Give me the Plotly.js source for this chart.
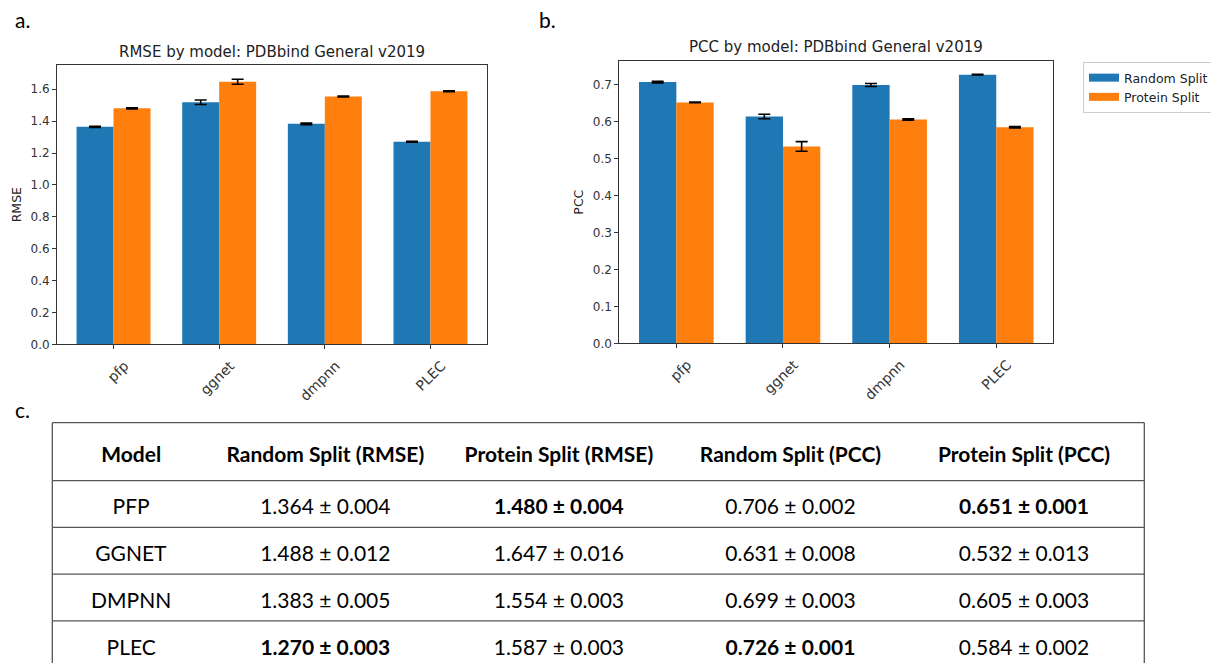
<!DOCTYPE html>
<html><head><meta charset="utf-8">
<script src="https://cdn.plot.ly/plotly-3.0.1.min.js"></script>
<style>html,body{margin:0;padding:0;background:#fff;overflow:hidden}#chart{width:1211px;height:663px}</style>
</head><body><div id="chart"></div>
<script>
// ---- bar chart data ----
const models = ['pfp', 'ggnet', 'dmpnn', 'PLEC'];
const seriesNames = ['Random Split', 'Protein Split'];
const rmseRandom = [1.364, 1.518, 1.383, 1.270];
const rmseRandomErr = [0.004, 0.014, 0.005, 0.003];
const rmseProtein = [1.480, 1.647, 1.554, 1.587];
const rmseProteinErr = [0.004, 0.016, 0.003, 0.003];
const pccRandom = [0.706, 0.613, 0.698, 0.726];
const pccRandomErr = [0.002, 0.006, 0.004, 0.001];
const pccProtein = [0.651, 0.532, 0.605, 0.584];
const pccProteinErr = [0.001, 0.013, 0.002, 0.002];

// ---- table data ----
const tableHeader = ['Model', 'Random Split (RMSE)', 'Protein Split (RMSE)', 'Random Split (PCC)', 'Protein Split (PCC)'];
const tableModels = ['PFP', 'GGNET', 'DMPNN', 'PLEC'];
const tRandRmse = [1.364, 1.488, 1.383, 1.270];
const tRandRmseSd = [0.004, 0.012, 0.005, 0.003];
const tProtRmse = [1.480, 1.647, 1.554, 1.587];
const tProtRmseSd = [0.004, 0.016, 0.003, 0.003];
const tRandPcc = [0.706, 0.631, 0.699, 0.726];
const tRandPccSd = [0.002, 0.008, 0.003, 0.001];
const tProtPcc = [0.651, 0.532, 0.605, 0.584];
const tProtPccSd = [0.001, 0.013, 0.003, 0.002];

const W = 1211, H = 663;
const px = v => v / W, py = v => 1 - v / H;
const BLUE = '#1f77b4', ORANGE = '#ff7f0e';
const chartFont = 'DejaVu Sans';
const tabFont = 'Lato';

const plain = s => '<span>' + s + '</span>';
function fmtCol(means, sds, lowerBetter) {
  const best = lowerBetter ? Math.min(...means) : Math.max(...means);
  return means.map((m, i) => {
    const s = m.toFixed(3) + ' \u00b1 ' + sds[i].toFixed(3);
    return m === best ? '<b>' + s + '</b>' : plain(s);
  });
}

function barTrace(y, err, color, xa, ya, name) {
  return {
    type: 'bar', x: models, y: y, name: name, xaxis: xa, yaxis: ya,
    marker: {color: color, line: {width: 0}}, showlegend: false,
    error_y: {type: 'data', array: err, visible: true, color: '#000', thickness: 1.6, width: 6}
  };
}

const traces = [
  barTrace(rmseRandom, rmseRandomErr, BLUE, 'x', 'y', seriesNames[0]),
  barTrace(rmseProtein, rmseProteinErr, ORANGE, 'x', 'y', seriesNames[1]),
  barTrace(pccRandom, pccRandomErr, BLUE, 'x2', 'y2', seriesNames[0]),
  barTrace(pccProtein, pccProteinErr, ORANGE, 'x2', 'y2', seriesNames[1]),
  {type: 'scatter', mode: 'lines', x: [null], y: [null], xaxis: 'x2', yaxis: 'y2', name: seriesNames[0], line: {color: BLUE, width: 8}},
  {type: 'scatter', mode: 'lines', x: [null], y: [null], xaxis: 'x2', yaxis: 'y2', name: seriesNames[1], line: {color: ORANGE, width: 8}}
];

// table geometry (px)
const tabLeft = 52.3, tabRight = 1144.3, tabTop = 422.7;
const headRow = 58, bodyRow = 46.7;
const headTextH = 52.7;
const tabShift = 10;

traces.push({
  type: 'table',
  domain: {x: [px(tabLeft), px(tabRight)], y: [0, py(tabTop + tabShift)]},
  columnwidth: [158, 231, 237, 227, 241],
  header: {
    values: tableHeader.map(h => ['<b>' + h + '</b>']),
    align: 'center', height: headTextH,
    font: {family: tabFont, size: 21, color: '#000'},
    line: {width: 0, color: 'rgba(0,0,0,0)'}, fill: {color: 'rgba(0,0,0,0)'}
  },
  cells: {
    values: [tableModels.map(plain), fmtCol(tRandRmse, tRandRmseSd, true), fmtCol(tProtRmse, tProtRmseSd, true),
             fmtCol(tRandPcc, tRandPccSd, false), fmtCol(tProtPcc, tProtPccSd, false)],
    align: 'center', height: bodyRow,
    font: {family: tabFont, size: 21, color: '#000'},
    line: {width: 0, color: 'rgba(0,0,0,0)'}, fill: {color: 'rgba(0,0,0,0)'}
  }
});

// table rules
const lineStyle = {color: '#555', width: 1.3};
const shapes = [];
const rulesPx = [tabTop];
for (let i = 0; i < tableModels.length; i++) rulesPx.push(tabTop + headRow + i * bodyRow);
rulesPx.forEach(yv => shapes.push({type: 'line', xref: 'paper', yref: 'paper', x0: px(tabLeft), x1: px(tabRight), y0: py(yv), y1: py(yv), line: lineStyle}));
[tabLeft, tabRight].forEach(xv => shapes.push({type: 'line', xref: 'paper', yref: 'paper', x0: px(xv), x1: px(xv), y0: py(tabTop), y1: 0, line: lineStyle}));

const axisCommon = {
  showline: true, linecolor: '#333', linewidth: 1, mirror: true,
  ticks: 'outside', ticklen: 4, tickwidth: 1, tickcolor: '#333',
  showgrid: false, zeroline: false,
  tickfont: {family: chartFont, size: 12, color: '#333'}
};
const xCommon = Object.assign({}, axisCommon, {type: 'category', range: [-0.535, 3.535], tickangle: -45, ticklabelshift: 11, ticklabelstandoff: 3,
  tickfont: {family: chartFont, size: 14, color: '#333'}, fixedrange: true});

const layout = {
  width: W, height: H,
  margin: {l: 0, r: 0, t: 0, b: 0, autoexpand: false},
  paper_bgcolor: '#fff', plot_bgcolor: '#fff',
  barmode: 'group', bargap: 0.3, bargroupgap: 0,
  font: {family: chartFont, color: '#222'},
  xaxis: Object.assign({}, xCommon, {domain: [px(57), px(487)], anchor: 'y'}),
  yaxis: Object.assign({}, axisCommon, {domain: [py(344.3), py(65)], anchor: 'x', range: [0, 1.752], dtick: 0.2, tickformat: '.1f',
    title: {text: 'RMSE', font: {family: chartFont, size: 12.5, color: '#222'}, standoff: 6}}),
  xaxis2: Object.assign({}, xCommon, {domain: [px(619.3), px(1053.3)], anchor: 'y2'}),
  yaxis2: Object.assign({}, axisCommon, {domain: [py(343.3), py(61)], anchor: 'x2', range: [0, 0.763], dtick: 0.1, tickformat: '.1f',
    title: {text: 'PCC', font: {family: chartFont, size: 12.5, color: '#222'}, standoff: 6}}),
  showlegend: true,
  legend: {x: px(1083), y: py(62), xanchor: 'left', yanchor: 'top', bgcolor: '#fff', bordercolor: '#ccc', borderwidth: 1,
    font: {family: chartFont, size: 12.5, color: '#222'}, itemwidth: 30, tracegroupgap: 0},
  shapes: shapes,
  annotations: [
    {text: 'RMSE by model: PDBbind General v2019', xref: 'paper', yref: 'paper', x: px(272), y: py(52), xanchor: 'center', yanchor: 'middle', showarrow: false, font: {family: chartFont, size: 15, color: '#222'}},
    {text: 'PCC by model: PDBbind General v2019', xref: 'paper', yref: 'paper', x: px(836.3), y: py(47), xanchor: 'center', yanchor: 'middle', showarrow: false, font: {family: chartFont, size: 15, color: '#222'}},
    {text: 'a.', xref: 'paper', yref: 'paper', x: px(13), y: py(19), xanchor: 'left', yanchor: 'middle', showarrow: false, font: {family: tabFont, size: 21, color: '#000'}},
    {text: 'b.', xref: 'paper', yref: 'paper', x: px(537), y: py(19), xanchor: 'left', yanchor: 'middle', showarrow: false, font: {family: tabFont, size: 21, color: '#000'}},
    {text: 'c.', xref: 'paper', yref: 'paper', x: px(13), y: py(409), xanchor: 'left', yanchor: 'middle', showarrow: false, font: {family: tabFont, size: 21, color: '#000'}}
  ]
};

Plotly.newPlot('chart', traces, layout, {displayModeBar: false, staticPlot: true});
</script>
</body></html>
